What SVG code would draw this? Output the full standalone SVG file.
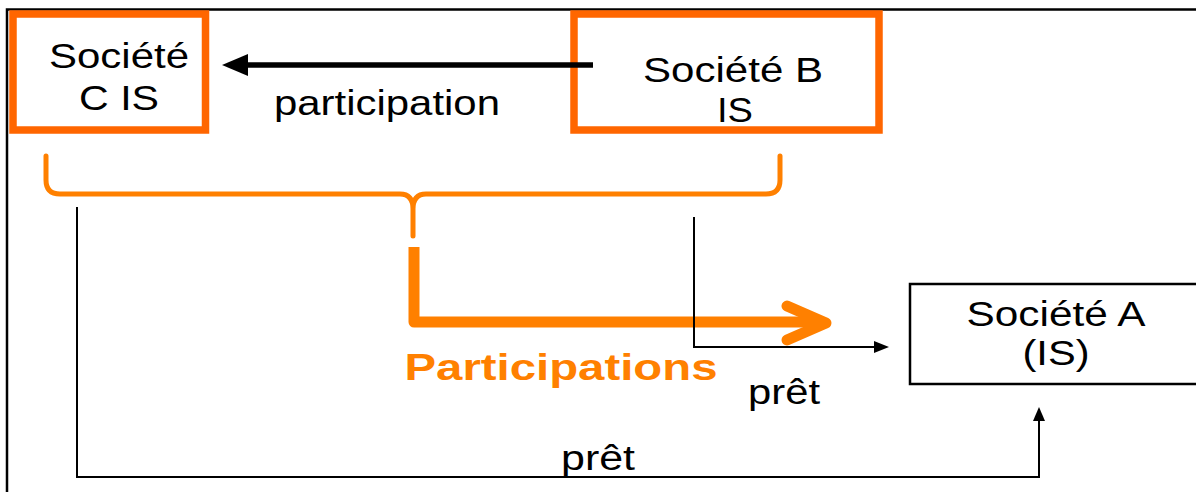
<svg xmlns="http://www.w3.org/2000/svg" width="1196" height="492" viewBox="0 0 1196 492">
<style>
.t{font-family:"Liberation Sans",Arial,sans-serif;font-size:35px;fill:#000;text-anchor:middle}
.ob{fill:#fff;stroke:#FF6600;stroke-width:7.5}
.thin{fill:none;stroke:#000;stroke-width:2}
.or{fill:none;stroke:#FF8000;stroke-linecap:round;stroke-linejoin:round}
</style>
<rect x="0" y="0" width="1196" height="492" fill="#fff"/>
<path d="M7,492 L7,9.5 L1196,9.5" fill="none" stroke="#000" stroke-width="2.5"/>
<g id="societe-c">
  <rect class="ob" x="13" y="14" width="192.5" height="116"/>
  <text class="t" x="119" y="68" textLength="140" lengthAdjust="spacingAndGlyphs">Société</text>
  <text class="t" x="119" y="110" textLength="80" lengthAdjust="spacingAndGlyphs">C IS</text>
</g>
<g id="societe-b">
  <rect class="ob" x="574" y="14" width="305" height="116"/>
  <text class="t" x="733" y="82" textLength="180" lengthAdjust="spacingAndGlyphs">Société B</text>
  <text class="t" x="735" y="122" textLength="36" lengthAdjust="spacingAndGlyphs">IS</text>
</g>
<g id="societe-a">
  <rect x="910" y="284" width="300" height="100" fill="#fff" stroke="#000" stroke-width="2.5"/>
  <text class="t" x="1056" y="326" textLength="179" lengthAdjust="spacingAndGlyphs">Société A</text>
  <text class="t" x="1056" y="365" textLength="67" lengthAdjust="spacingAndGlyphs">(IS)</text>
</g>
<g id="connectors">
  <line x1="593" y1="65" x2="240" y2="65" stroke="#000" stroke-width="5.5"/>
  <polygon points="222,65 248,54 248,76" fill="#000"/>
  <path class="or" stroke-width="5" stroke-linecap="butt" d="M46,156 L46,180 Q46,194 60,194 L400,194 Q413,194 413,209 L413,236 M413,209 Q413,194 426,194 L766,194 Q780,194 780,180 L780,156"/>
  <path fill="none" stroke="#FF8000" stroke-width="11" stroke-linejoin="round" d="M414,247 L414,322 L822,322"/>
  <path class="or" stroke-width="11" d="M787,306 L826,323 L787,340"/>
  <path class="thin" d="M694,217 L694,347 L876,347"/>
  <polygon points="889,347 874,341 874,353" fill="#000"/>
  <path class="thin" d="M77,207 L77,477 L1039,477 L1039,420"/>
  <polygon points="1039,407 1033,421 1045,421" fill="#000"/>
  <text class="t" x="387" y="115" textLength="226" lengthAdjust="spacingAndGlyphs">participation</text>
  <text x="561" y="380" textLength="313" lengthAdjust="spacingAndGlyphs" style="font-family:'Liberation Sans',Arial,sans-serif;font-size:36px;font-weight:bold;fill:#FF8000;text-anchor:middle">Participations</text>
  <text class="t" x="784" y="404" textLength="72" lengthAdjust="spacingAndGlyphs">prêt</text>
  <text class="t" x="598" y="470" textLength="74" lengthAdjust="spacingAndGlyphs">prêt</text>
</g>
</svg>
